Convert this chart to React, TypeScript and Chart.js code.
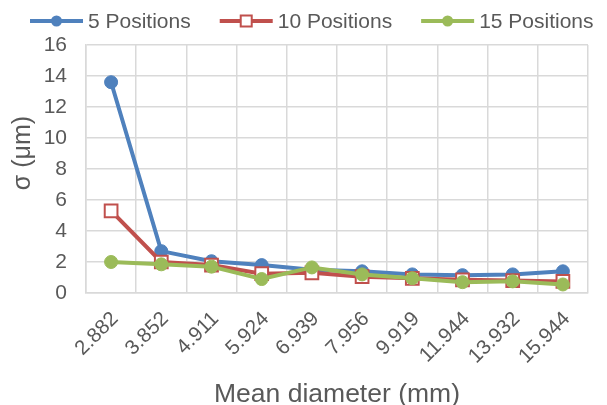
import React, { useEffect, useRef } from "react";
import { Chart, registerables } from "chart.js";

Chart.register(...registerables);

const categories = ["2.882", "3.852", "4.911", "5.924", "6.939", "7.956", "9.919", "11.944", "13.932", "15.944"];
const pos5 = [13.6, 2.7, 2.05, 1.8, 1.5, 1.4, 1.2, 1.15, 1.2, 1.4];
const pos10 = [5.3, 2.0, 1.8, 1.25, 1.3, 1.05, 0.95, 0.85, 0.8, 0.75];
const pos15 = [2.0, 1.85, 1.7, 0.9, 1.65, 1.2, 0.95, 0.7, 0.75, 0.55];
const seriesNames = ["5 Positions", "10 Positions", "15 Positions"];
const yTicks = [0, 2, 4, 6, 8, 10, 12, 14, 16];
const yTitle = "σ (μm)";
const xTitle = "Mean diameter (mm)";

const FONT = '"Liberation Sans", Arial, sans-serif';
const TEXT = "#595959";
const GRID = "#d9d9d9";

const legendPlugin = {
  id: "lineMarkerLegend",
  afterDraw(chart: any) {
    const ctx = chart.ctx;
    ctx.save();
    ctx.font = `21px ${FONT}`;
    ctx.textBaseline = "middle";
    let x = 30;
    const y = 21;
    chart.data.datasets.forEach((ds: any) => {
      ctx.strokeStyle = ds.borderColor;
      ctx.lineWidth = 4;
      ctx.beginPath();
      ctx.moveTo(x, y);
      ctx.lineTo(x + 53, y);
      ctx.stroke();
      const cx = x + 26.5;
      if (ds.pointStyle === "rect") {
        ctx.fillStyle = "#ffffff";
        ctx.fillRect(cx - 5.5, y - 5.5, 11, 11);
        ctx.lineWidth = 2;
        ctx.strokeStyle = ds.borderColor;
        ctx.strokeRect(cx - 5.5, y - 5.5, 11, 11);
      } else {
        ctx.fillStyle = ds.borderColor;
        ctx.beginPath();
        ctx.arc(cx, y, 5.5, 0, Math.PI * 2);
        ctx.fill();
      }
      ctx.fillStyle = TEXT;
      ctx.fillText(ds.label, x + 58, y + 1);
      x += 58 + ctx.measureText(ds.label).width + 29;
    });
    // y axis title, centred as in the source (slightly above the plot centre)
    const area = chart.chartArea;
    ctx.font = `25px ${FONT}`;
    ctx.textAlign = "center";
    ctx.textBaseline = "middle";
    ctx.fillStyle = TEXT;
    ctx.translate(23, (area.top + area.bottom) / 2 - 16);
    ctx.rotate(-Math.PI / 2);
    ctx.fillText(yTitle, 0, 0);
    ctx.restore();
  },
};

export default function App() {
  const ref = useRef<HTMLCanvasElement>(null);

  useEffect(() => {
    document.body.style.margin = "0";
    if (!ref.current) return;
    const chart = new Chart(ref.current, {
      type: "line",
      data: {
        labels: categories,
        datasets: [
          {
            label: seriesNames[0],
            data: pos5,
            borderColor: "#4f81bd",
            backgroundColor: "#4f81bd",
            borderWidth: 4,
            pointStyle: "circle",
            pointRadius: 6.5,
            pointBorderWidth: 1,
            pointBackgroundColor: "#4f81bd",
            order: 3,
          },
          {
            label: seriesNames[1],
            data: pos10,
            borderColor: "#c0504d",
            backgroundColor: "#ffffff",
            borderWidth: 4,
            pointStyle: "rect",
            pointRadius: 9,
            pointBorderWidth: 2,
            pointBackgroundColor: "#ffffff",
            order: 2,
          },
          {
            label: seriesNames[2],
            data: pos15,
            borderColor: "#9bbb59",
            backgroundColor: "#9bbb59",
            borderWidth: 4,
            pointStyle: "circle",
            pointRadius: 6.5,
            pointBorderWidth: 1,
            pointBackgroundColor: "#9bbb59",
            order: 1,
          },
        ],
      },
      options: {
        animation: false,
        responsive: false,
        layout: { padding: { top: 45, right: 19, left: 0, bottom: 0 } },
        plugins: {
          legend: { display: false },
          tooltip: { enabled: false },
        },
        scales: {
          x: {
            type: "category",
            offset: true,
            grid: { offset: true, color: GRID, lineWidth: 1.5, drawTicks: false },
            border: { color: GRID, width: 1.5 },
            ticks: {
              color: TEXT,
              font: { family: FONT, size: 20.5 },
              minRotation: 45,
              maxRotation: 45,
              autoSkip: false,
              padding: 14,
              labelOffset: 4,
            },
            title: {
              display: true,
              text: xTitle,
              color: TEXT,
              font: { family: FONT, size: 26.5, lineHeight: 0.8 },
              padding: 0,
            },
            afterFit: (s: any) => {
              s.height = 112;
            },
          },
          y: {
            min: 0,
            max: 16,
            afterBuildTicks: (s: any) => {
              s.ticks = yTicks.map((v) => ({ value: v }));
            },
            grid: { color: GRID, lineWidth: 1.5, drawTicks: false },
            border: { color: GRID, width: 1.5 },
            ticks: {
              color: TEXT,
              font: { family: FONT, size: 21 },
              padding: 19,
            },
            afterFit: (s: any) => {
              s.width = 86;
            },
          },
        },
      },
      plugins: [legendPlugin],
    });
    return () => chart.destroy();
  }, []);

  return (
    <div style={{ width: 607, height: 405, background: "#ffffff" }}>
      <canvas ref={ref} width={607} height={405} style={{ width: 607, height: 405, display: "block" }} />
    </div>
  );
}
